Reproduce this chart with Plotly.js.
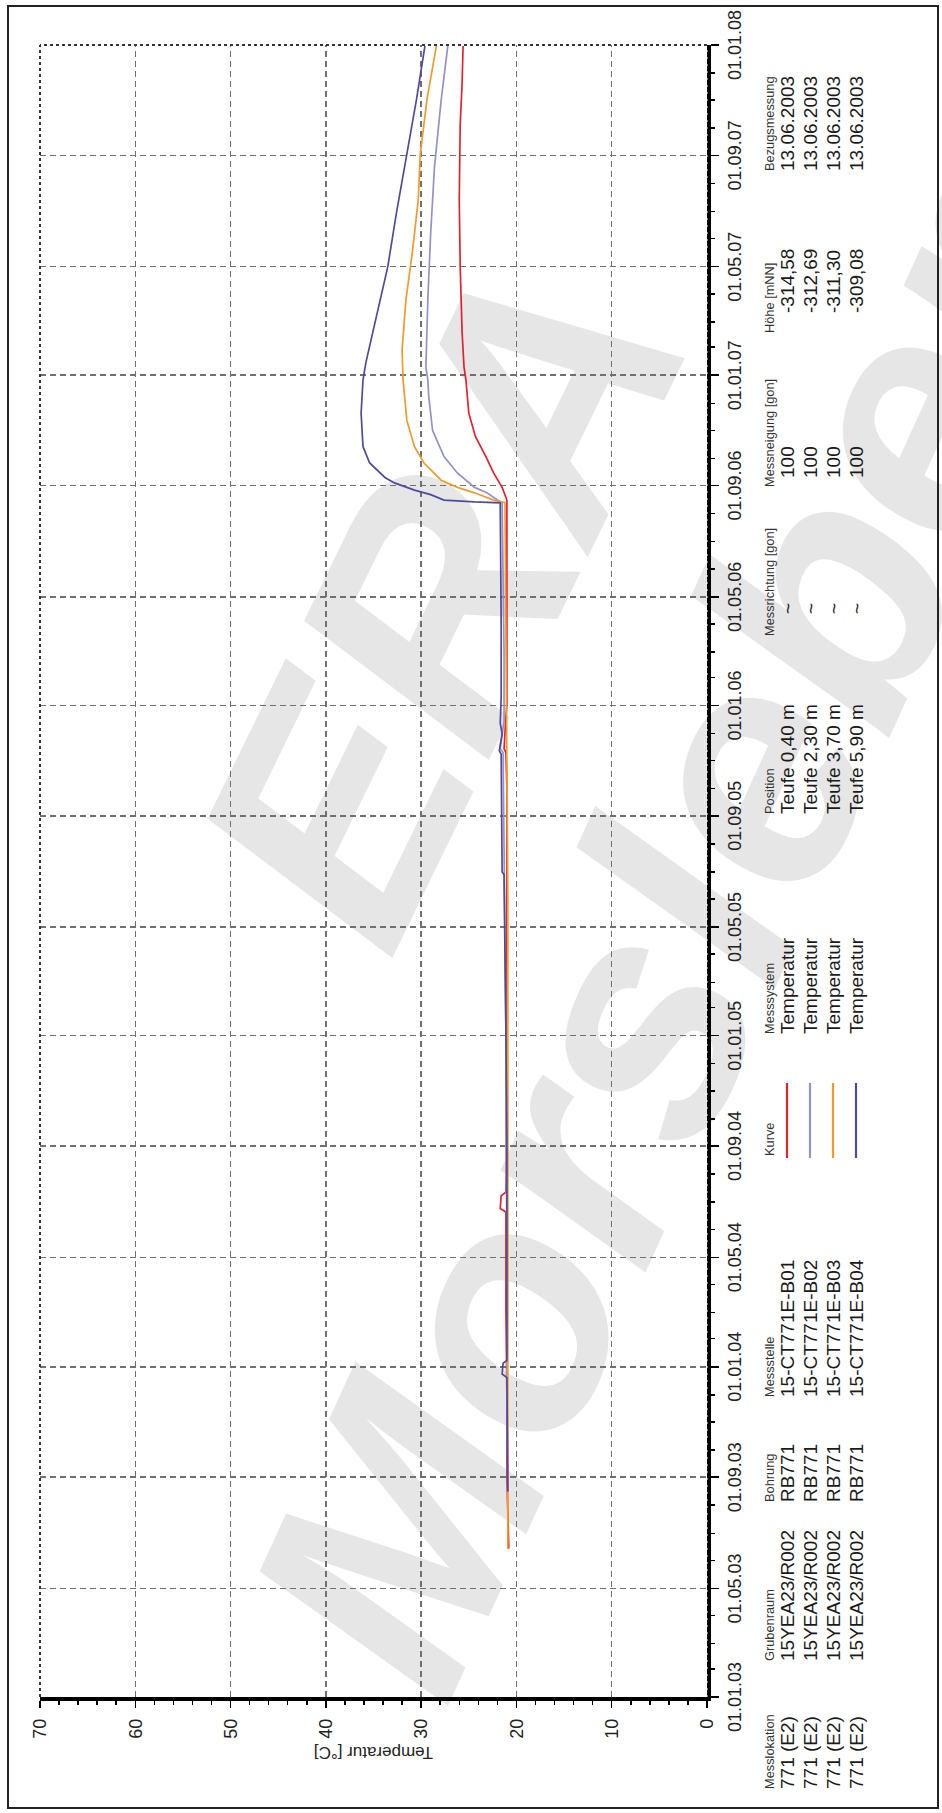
<!DOCTYPE html>
<html>
<head>
<meta charset="utf-8">
<script src="https://cdn.plot.ly/plotly-3.0.1.min.js"></script>
<style>
  html, body { margin:0; padding:0; width:942px; height:1813px; overflow:hidden; background:#fff; }
  #rot { position:absolute; left:0; top:0; width:1813px; height:942px; overflow:hidden;
         transform-origin:0 0; transform: translateY(1813px) rotate(-90deg); background:#fff; }
  .wm { position:absolute; font-family:'Liberation Sans', Arial, sans-serif; font-weight:bold; font-style:italic;
        font-size:330px; color:#e6e6e6; white-space:nowrap; line-height:1; }
  #frame { position:absolute; left:4px; top:7px; width:1800px; height:928px; border:2.5px solid #222; }
  #plot { position:absolute; left:0; top:0; width:1813px; height:942px; }
</style>
</head>
<body>
<div id="rot">
  <div class="wm" style="left:1213px; top:440px; transform: translate(-50%,-50%) rotate(26deg);">ERA</div>
  <div class="wm" style="left:900px; top:684px; transform: translate(-50%,-50%) rotate(24.5deg);">Morsleben</div>
  <div id="frame"></div>
  <div id="plot"></div>
</div>
<script>
// ---------- data ----------
const seriesNames = ['15-CT771E-B01', '15-CT771E-B02', '15-CT771E-B03', '15-CT771E-B04'];

const b01Dates = ['2003-06-14','2003-07-20','2003-09-01','2003-12-01','2004-03-01','2004-06-20','2004-06-24','2004-07-08','2004-07-12','2004-10-01','2005-01-01','2005-04-01','2005-07-01','2005-10-01','2005-11-10','2005-11-14','2005-12-20','2006-01-01','2006-03-01','2006-05-01','2006-07-01','2006-08-12','2006-08-16','2006-08-30','2006-09-15','2006-10-03','2006-10-25','2006-11-20','2006-12-27','2007-01-10','2007-02-17','2007-05-01','2007-07-14','2007-10-05','2007-11-20','2007-12-31'];
const b01Temps = [20.8,20.9,21.0,21.0,21.1,21.1,21.7,21.6,21.1,21.0,21.0,21.0,21.0,21.0,21.1,21.3,21.1,21.0,21.0,21.0,21.0,21.0,21.0,21.5,22.4,23.2,24.3,25.0,25.3,25.5,25.7,25.9,26.0,25.9,25.7,25.6];

const b02Dates = ['2003-08-16','2003-12-01','2004-06-01','2004-09-01','2005-01-01','2005-05-01','2005-07-01','2005-11-10','2005-11-14','2005-12-15','2006-03-01','2006-06-01','2006-08-13','2006-08-16','2006-08-24','2006-08-30','2006-09-15','2006-10-03','2006-11-01','2006-12-08','2006-12-27','2007-01-10','2007-03-25','2007-06-07','2007-08-19','2007-11-01','2007-12-31'];
const b02Temps = [20.9,21.0,21.0,21.1,21.1,21.2,21.3,21.4,21.7,21.3,21.3,21.4,21.5,22.0,23.1,24.4,26.2,27.6,28.8,29.2,29.3,29.5,29.3,29.0,28.6,27.9,27.2];

const b03Dates = ['2003-06-14','2003-09-01','2004-01-01','2004-06-01','2005-01-01','2005-06-01','2005-11-01','2006-03-01','2006-08-13','2006-08-16','2006-08-24','2006-08-30','2006-09-07','2006-09-26','2006-10-14','2006-11-12','2006-12-27','2007-01-29','2007-03-25','2007-05-19','2007-07-14','2007-09-01','2007-11-01','2007-12-31'];
const b03Temps = [20.9,20.9,20.9,20.9,20.9,20.9,21.0,21.1,21.2,22.4,24.4,26.2,27.9,29.7,30.7,31.5,31.9,32.0,31.6,30.9,30.3,30.1,29.4,28.4];

const b04Dates = ['2003-08-16','2003-12-20','2003-12-24','2004-01-05','2004-01-08','2004-06-01','2004-09-01','2005-01-01','2005-04-20','2005-06-28','2005-07-01','2005-11-08','2005-11-12','2005-12-01','2005-12-12','2006-01-10','2006-04-01','2006-08-13','2006-08-14','2006-08-16','2006-08-22','2006-08-27','2006-09-04','2006-09-10','2006-09-26','2006-10-14','2006-11-20','2006-12-27','2007-01-15','2007-03-03','2007-05-01','2007-06-29','2007-09-01','2007-11-01','2007-12-31'];
const b04Temps = [20.9,21.0,21.5,21.4,21.0,21.0,21.0,21.1,21.2,21.3,21.5,21.6,21.8,21.5,21.7,21.6,21.6,21.7,24.4,27.6,29.0,30.7,32.8,33.8,35.4,36.1,36.3,36.1,35.8,34.8,33.5,32.6,31.5,30.5,29.6];

const timeTickVals = ['2003-01-01','2003-05-01','2003-09-01','2004-01-01','2004-05-01','2004-09-01','2005-01-01','2005-05-01','2005-09-01','2006-01-01','2006-05-01','2006-09-01','2007-01-01','2007-05-01','2007-09-01','2008-01-01'];
const timeTickText = ['01.01.03','01.05.03','01.09.03','01.01.04','01.05.04','01.09.04','01.01.05','01.05.05','01.09.05','01.01.06','01.05.06','01.09.06','01.01.07','01.05.07','01.09.07','01.01.08'];
const tempTickVals = [0,10,20,30,40,50,60,70];
const tempTickText = ['0','10','20','30','40','50','60','70'];

// table columns
const colMesslokation = ['771 (E2)','771 (E2)','771 (E2)','771 (E2)'];
const colGrubenraum = ['15YEA23/R002','15YEA23/R002','15YEA23/R002','15YEA23/R002'];
const colBohrung = ['RB771','RB771','RB771','RB771'];
const colMessstelle = seriesNames;
const colMesssystem = ['Temperatur','Temperatur','Temperatur','Temperatur'];
const colPosition = ['Teufe 0,40 m','Teufe 2,30 m','Teufe 3,70 m','Teufe 5,90 m'];
const colMessrichtung = ['~','~','~','~'];
const colMessneigung = ['100','100','100','100'];
const colHoehe = ['-314,58','-312,69','-311,30','-309,08'];
const colBezug = ['13.06.2003','13.06.2003','13.06.2003','13.06.2003'];

// ---------- styling / layout ----------
const FONT = "'Liberation Sans', Arial, sans-serif";
const colors = ['#e2232b', '#9592c8', '#f39a2e', '#4f4a9e'];
const dates = [b01Dates, b02Dates, b03Dates, b04Dates];
const temps = [b01Temps, b02Temps, b03Temps, b04Temps];

const traces = seriesNames.map((n, i) => ({
  type: 'scatter', mode: 'lines', name: n,
  x: dates[i], y: temps[i],
  line: { color: colors[i], width: 1.7 },
  hoverinfo: 'skip'
}));

// landscape geometry
const W = 1813, PL = 116, PR = 1768, PT = 40, PB = 707;
const px = u => (u - PL) / (PR - PL);
const py = v => (PB - v) / (PB - PT);
const headerV = 769;
const rowV = [787, 810, 833, 856];
const KURVE_U0 = 655, KURVE_U1 = 730;

const columns = [
  { head: 'Messlokation', rows: colMesslokation, hu: 22, ru: 22 },
  { head: 'Grubenraum', rows: colGrubenraum, hu: 150, ru: 150 },
  { head: 'Bohrung', rows: colBohrung, hu: 309, ru: 309 },
  { head: 'Messstelle', rows: colMessstelle, hu: 414, ru: 414 },
  { head: 'Kurve', rows: null, hu: KURVE_U0, ru: KURVE_U0 },
  { head: 'Messsystem', rows: colMesssystem, hu: 777, ru: 777 },
  { head: 'Position', rows: colPosition, hu: 997, ru: 997 },
  { head: 'Messrichtung [gon]', rows: colMessrichtung, hu: 1175, ru: 1197 },
  { head: 'Messneigung [gon]', rows: colMessneigung, hu: 1324, ru: 1333 },
  { head: 'Höhe [mNN]', rows: colHoehe, hu: 1478, ru: 1498 },
  { head: 'Bezugsmessung', rows: colBezug, hu: 1640, ru: 1640 }
];

const annotations = [];
columns.forEach(c => {
  annotations.push({ xref:'paper', yref:'paper', x:px(c.hu), y:py(headerV), xanchor:'left', yanchor:'middle',
    text:c.head, showarrow:false, font:{family:FONT, size:12.8, color:'#333'} });
  if (c.rows) c.rows.forEach((t, i) => {
    annotations.push({ xref:'paper', yref:'paper', x:px(c.ru), y:py(rowV[i]), xanchor:'left', yanchor:'middle',
      text:t, showarrow:false, font:{family:FONT, size:19, color:'#1a1a1a'} });
  });
});

const shapes = [
  { type:'line', xref:'paper', yref:'paper', x0:0, x1:1, y0:1, y1:1, line:{color:'#333', width:2, dash:'dot'} },
  { type:'line', xref:'paper', yref:'paper', x0:1, x1:1, y0:0, y1:1, line:{color:'#333', width:2, dash:'dot'} },
  { type:'line', xref:'paper', yref:'paper', x0:0, x1:1, y0:0, y1:0, line:{color:'#ffffff', width:1, dash:'2px,5px'} }
];
colors.forEach((c, i) => {
  shapes.push({ type:'line', xref:'paper', yref:'paper', x0:px(KURVE_U0), x1:px(KURVE_U1), y0:py(rowV[i]), y1:py(rowV[i]),
    line:{color:c, width:2.2} });
});

const layout = {
  width: 1813, height: 942,
  margin: { l: PL, r: W - PR, t: PT, b: 942 - PB },
  paper_bgcolor: 'rgba(0,0,0,0)', plot_bgcolor: 'rgba(0,0,0,0)',
  showlegend: false,
  font: { family: FONT, color: '#222' },
  xaxis: {
    type: 'date', range: ['2003-01-01', '2008-01-01'],
    tickmode: 'array', tickvals: timeTickVals, ticktext: timeTickText,
    showgrid: true, gridcolor: '#707070', gridwidth: 1.5, griddash: '6px,4px',
    showline: true, linecolor: '#000', linewidth: 4,
    ticks: 'outside', ticklen: 8, tickwidth: 1.5, tickcolor: '#000',
    minor: { tickmode: 'linear', tick0: '2003-01-01', dtick: 'M1', ticks: 'outside', ticklen: 4, tickwidth: 1.5, tickcolor: '#000', showgrid: false },
    tickfont: { family: FONT, size: 18, color: '#222' },
    zeroline: false, fixedrange: true
  },
  yaxis: {
    range: [0, 70],
    tickmode: 'array', tickvals: tempTickVals, ticktext: tempTickText,
    showgrid: true, gridcolor: '#707070', gridwidth: 1.5, griddash: '6px,4px',
    showline: true, linecolor: '#000', linewidth: 4,
    ticks: 'outside', ticklen: 7, tickwidth: 1.5, tickcolor: '#000',
    ticklabelstandoff: 7,
    minor: { tickmode: 'linear', tick0: 0, dtick: 2, ticks: 'outside', ticklen: 4, tickwidth: 1.5, tickcolor: '#000', showgrid: false },
    tickfont: { family: FONT, size: 18, color: '#222' },
    title: { text: 'Temperatur [°C]', font: { family: FONT, size: 17, color: '#222' }, standoff: 4 },
    zeroline: false, fixedrange: true
  },
  annotations: annotations,
  shapes: shapes
};

Plotly.newPlot('plot', traces, layout, { staticPlot: true, displayModeBar: false });
</script>
</body>
</html>
